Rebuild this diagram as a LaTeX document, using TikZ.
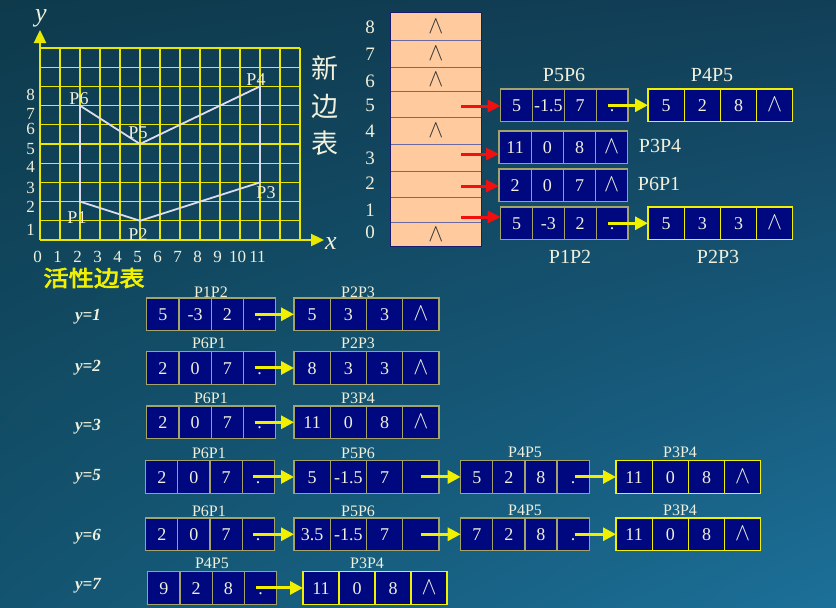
\documentclass[tikz,border=0pt]{standalone}
\usepackage{fontspec}
\usepackage{graphicx}
\setmainfont{Liberation Serif}
\newfontfamily\cjk{Noto Sans CJK SC}
\newfontfamily\cjkb[FakeBold=3]{Noto Sans CJK SC}
\usetikzlibrary{arrows.meta,shadings}
\definecolor{bgUL}{HTML}{0E3A4C}
\definecolor{bgUR}{HTML}{123F58}
\definecolor{bgLL}{HTML}{135470}
\definecolor{bgLR}{HTML}{1C7099}
\definecolor{navy}{RGB}{0,8,128}
\definecolor{cream}{HTML}{F0F0DC}
\definecolor{khaki}{HTML}{A4A46A}
\definecolor{yel}{HTML}{F0F000}
\definecolor{gridy}{HTML}{E8E800}
\definecolor{peach}{HTML}{FFCB9E}
\definecolor{tabline}{HTML}{6A6AA0}
\definecolor{tabborder}{HTML}{1A1A70}
\definecolor{polyc}{HTML}{DCDCEC}
\definecolor{redar}{HTML}{F01010}
\newcommand\nil{\scalebox{1.3}[1.45]{$\wedge$}}
\newcommand\lst[9]{%
  \node[cell=#4,#9,anchor=north west] (#1-1) at (#2,#3) {#5};
  \node[cell=#4,#9,anchor=west] (#1-2) at (#1-1.east) {#6};
  \node[cell=#4,#9,anchor=west] (#1-3) at (#1-2.east) {#7};
  \node[cell=#4,#9,anchor=west] (#1-4) at (#1-3.east) {#8};
}
\begin{document}
\begin{tikzpicture}[x=1pt,y=-1pt,
  cell/.style={rectangle, fill=navy, text=cream, minimum width=#1pt,
    minimum height=32.5pt, inner sep=0pt, outer sep=0pt, text height=12.2pt,
    text depth=0pt, font=\fontsize{18}{18}\selectfont, line width=1.2pt},
  kh/.style={draw=khaki},
  ye/.style={draw=yel},
  yarrow/.style={draw=yel, line width=3pt, -{Triangle[length=13pt,width=13pt]}},
  rarrow/.style={draw=redar, line width=3pt, -{Triangle[length=13pt,width=12pt]}},
  lab/.style={text=cream, font=\fontsize{16}{16}\selectfont, inner sep=0pt},
  ulab/.style={text=cream, font=\fontsize{20}{20}\selectfont, inner sep=0pt},
  ylab/.style={text=cream, font=\fontsize{17}{17}\selectfont\bfseries\itshape, inner sep=0pt},
  num/.style={text=cream, font=\fontsize{18}{18}\selectfont, inner sep=0pt},
  trow/.style={rectangle, fill=peach, draw=tabline, line width=0.8pt, minimum width=91.7pt,
    minimum height=#1pt, inner sep=0pt, outer sep=0pt, anchor=north west,
    text=black!80, font=\fontsize{18}{18}\selectfont},
  gridline/.style={draw=gridy, line width=1.2pt},
  axis/.style={draw=gridy, line width=2.4pt, -{Triangle[length=13pt,width=12pt]}},
  poly/.style={draw=polyc, line width=1.8pt, line join=round},
  plab/.style={text=cream, font=\fontsize{18}{18}\selectfont, inner sep=0pt}
]
\useasboundingbox (0,0) rectangle (836,608);
\shade[upper left=bgUL, upper right=bgUR, lower left=bgLL, lower right=bgLR] (0,0) rectangle (836,608);

% ---------- grid ----------
\foreach \i in {0,...,13} \draw[gridline] (40+20*\i,48) -- (40+20*\i,240);
\foreach \j in {0,...,10} \draw[gridline] (40,240-19.2*\j) -- (300,240-19.2*\j);
\coordinate (O) at (40,240);
\coordinate (xend) at (324,240);
\coordinate (yend) at (40,30);
\draw[axis] (O) -- (xend);
\draw[axis] (O) -- (yend);
\node[text=cream, font=\fontsize{26}{26}\selectfont\itshape, inner sep=0pt] (xl) at (331,244) {x};
\node[text=cream, font=\fontsize{26}{26}\selectfont\itshape, inner sep=0pt] (yl) at (41,18) {y};
\foreach \i in {0,...,11} \node[num, font=\fontsize{17}{17}\selectfont] (xn\i) at (37.5+20*\i,257) {\i};
\foreach \v/\yy in {1/230,2/206.7,3/187.3,4/166.7,5/149,6/129,7/113.5,8/95}
  \node[num, font=\fontsize{17}{17}\selectfont, anchor=east, text height=11.5pt, text depth=0pt] (yn\v) at (35,\yy) {\v};

% polygon
\coordinate (P1) at (80,201.6);
\coordinate (P2) at (140,220.8);
\coordinate (P3) at (260,182.4);
\coordinate (P4) at (260,86.4);
\coordinate (P5) at (140,144);
\coordinate (P6) at (80,105.6);
\draw[poly] (P1) -- (P2) -- (P3) -- (P4) -- (P5) -- (P6) -- cycle;
\node[plab] (lP6) at (79,99) {P6};
\node[plab] (lP5) at (138,133) {P5};
\node[plab] (lP4) at (256,80) {P4};
\node[plab] (lP3) at (266,193) {P3};
\node[plab] (lP1) at (77,218) {P1};
\node[plab] (lP2) at (138,235) {P2};

% titles
\node[text=cream, font=\cjk\fontsize{27}{27}\selectfont, inner sep=0pt] (c1) at (325,68) {新};
\node[text=cream, font=\cjk\fontsize{27}{27}\selectfont, inner sep=0pt] (c2) at (325,106) {边};
\node[text=cream, font=\cjk\fontsize{27}{27}\selectfont, inner sep=0pt] (c3) at (325,143) {表};
\node[text=yel, font=\cjkb\fontsize{22}{22}\selectfont, inner sep=0pt, xscale=1.15] (act) at (94,278) {活性边表};

% ---------- bucket table ----------
\node[trow=27.3] (t8) at (390,12.7) {\nil};
\node[trow=27.3] (t7) at (390,40) {\nil};
\node[trow=24.4] (t6) at (390,67.3) {\nil};
\node[trow=25.6] (t5) at (390,91.7) {};
\node[trow=26.7] (t4) at (390,117.3) {\nil};
\node[trow=27.7] (t3) at (390,144) {};
\node[trow=25.6] (t2) at (390,171.7) {};
\node[trow=25.4] (t1) at (390,197.3) {};
\node[trow=24] (t0) at (390,222.7) {\nil};
\draw[tabborder, line width=1pt] (t8.north west) rectangle (t0.south east);
\foreach \v/\yy in {8/27,7/54,6/81,5/105,4/131,3/158,2/183,1/210,0/232}
  \node[num, font=\fontsize{19}{19}\selectfont] (tn\v) at (370,\yy) {\v};

% ---------- edge table lists ----------
\lst{U5a}{500.7}{89}{31.8}{5}{-1.5}{7}{.}{kh}
\lst{U5b}{648}{89}{36.2}{5}{2}{8}{\nil}{ye}
\lst{U3}{499}{131}{32.2}{11}{0}{8}{\nil}{kh}
\lst{U2}{499}{169}{32.2}{2}{0}{7}{\nil}{kh}
\lst{U1a}{500.7}{207}{31.8}{5}{-3}{2}{.}{kh}
\lst{U1b}{648}{207}{36.2}{5}{3}{3}{\nil}{ye}
\draw[yarrow] ([xshift=-4pt]U5a-4.center) -- (U5b-1.west);
\draw[yarrow] ([xshift=-4pt]U1a-4.center) -- (U1b-1.west);
\coordinate (r5) at (461,106);
\coordinate (r3) at (461,154);
\coordinate (r2) at (461,186);
\coordinate (r1) at (461,217);
\draw[rarrow] (r5) -- (r5 -| U5a-1.west);
\draw[rarrow] (r3) -- (r3 -| U3-1.west);
\draw[rarrow] (r2) -- (r2 -| U2-1.west);
\draw[rarrow] (r1) -- (r1 -| U1a-1.west);
\node[ulab] (lu1) at (564,75) {P5P6};
\node[ulab] (lu2) at (712,75) {P4P5};
\node[ulab] (lu3) at (660,146) {P3P4};
\node[ulab] (lu4) at (659,184) {P6P1};
\node[ulab] (lu5) at (570,257) {P1P2};
\node[ulab] (lu6) at (718,257) {P2P3};

% ---------- active edge lists ----------
% y=1
\node[ylab] (y1) at (88,317) {y=1};
\lst{La}{146.7}{298}{32.25}{5}{-3}{2}{.}{kh}
\lst{Lb}{294}{298}{36.25}{5}{3}{3}{\nil}{kh}
\draw[yarrow] ([xshift=-5pt]La-4.center) -- (Lb-1.west);
\node[lab] (la1) at (211,292) {P1P2};
\node[lab] (la2) at (358,292) {P2P3};
% y=2
\node[ylab] (y2) at (88,368) {y=2};
\lst{Ma}{146.7}{351.7}{32.25}{2}{0}{7}{.}{kh}
\lst{Mb}{294}{351.7}{36.25}{8}{3}{3}{\nil}{kh}
\draw[yarrow] ([xshift=-5pt]Ma-4.center) -- (Mb-1.west);
\node[lab] (lb1) at (209,343) {P6P1};
\node[lab] (lb2) at (358,343) {P2P3};
% y=3
\node[ylab] (y3) at (88,427) {y=3};
\lst{Na}{146.7}{406}{32.25}{2}{0}{7}{.}{kh}
\lst{Nb}{294}{406}{36.25}{11}{0}{8}{\nil}{kh}
\draw[yarrow] ([xshift=-5pt]Na-4.center) -- (Nb-1.west);
\node[lab] (lc1) at (211,398) {P6P1};
\node[lab] (lc2) at (358,398) {P3P4};
% y=5
\node[ylab] (y5) at (88,477) {y=5};
\lst{Qa}{145.7}{460.7}{32.15}{2}{0}{7}{.}{kh}
\lst{Qb}{294}{460.7}{36.25}{5}{-1.5}{7}{}{kh}
\lst{Qc}{460.7}{460.7}{32.1}{5}{2}{8}{.}{kh}
\lst{Qd}{616}{460.7}{36.2}{11}{0}{8}{\nil}{ye}
\draw[yarrow] ([xshift=-5pt]Qa-4.center) -- (Qb-1.west);
\draw[yarrow] (Qb-4.center) -- (Qc-1.west);
\draw[yarrow] ([xshift=2pt]Qc-4.center) -- (Qd-1.west);
\node[lab] (ld1) at (209,453) {P6P1};
\node[lab] (ld2) at (358,453) {P5P6};
\node[lab] (ld3) at (525,452) {P4P5};
\node[lab] (ld4) at (680,452) {P3P4};
% y=6
\node[ylab] (y6) at (88,537) {y=6};
\lst{Ra}{145.7}{518}{32.15}{2}{0}{7}{.}{kh}
\lst{Rb}{294}{518}{36.25}{3.5}{-1.5}{7}{}{kh}
\lst{Rc}{460.7}{518}{32.1}{7}{2}{8}{.}{kh}
\lst{Rd}{616}{518}{36.2}{11}{0}{8}{\nil}{ye}
\draw[yarrow] ([xshift=-5pt]Ra-4.center) -- (Rb-1.west);
\draw[yarrow] (Rb-4.center) -- (Rc-1.west);
\draw[yarrow] ([xshift=2pt]Rc-4.center) -- (Rd-1.west);
\node[lab] (le1) at (209,511) {P6P1};
\node[lab] (le2) at (358,511) {P5P6};
\node[lab] (le3) at (525,510) {P4P5};
\node[lab] (le4) at (680,510) {P3P4};
% y=7
\node[ylab] (y7) at (88,586) {y=7};
\lst{Sa}{147.7}{571.7}{32.25}{9}{2}{8}{.}{kh}
\lst{Sb}{303}{571.7}{36}{11}{0}{8}{\nil}{ye}
\draw[yarrow] ([xshift=-5pt]Sa-4.center) -- (Sb-1.west);
\node[lab] (lf1) at (212,563) {P4P5};
\node[lab] (lf2) at (367,563) {P3P4};
\end{tikzpicture}
\end{document}
